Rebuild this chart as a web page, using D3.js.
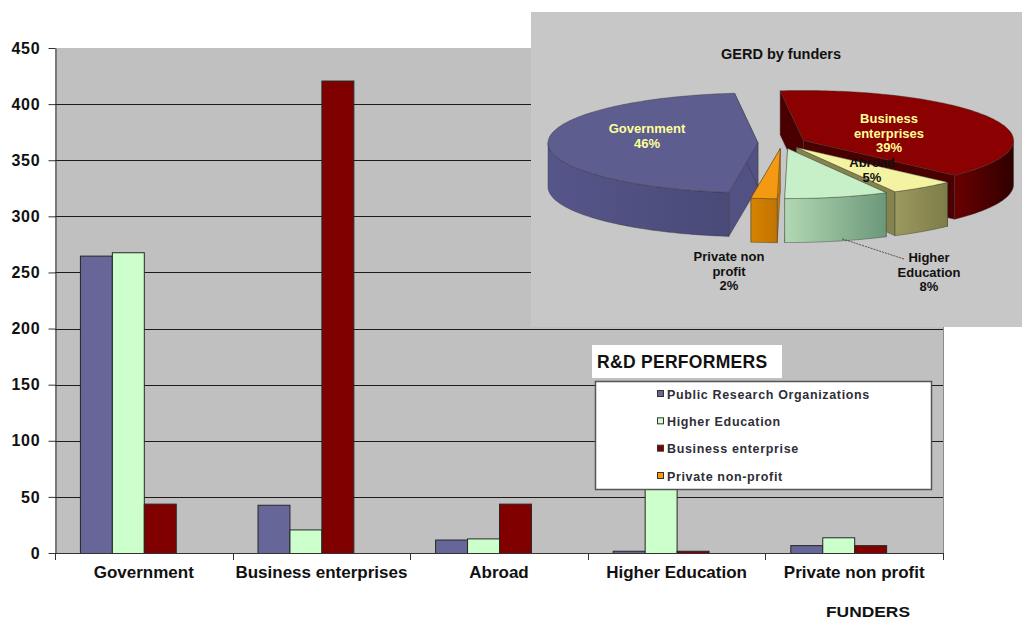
<!DOCTYPE html>
<html>
<head>
<meta charset="utf-8">
<script src="https://cdn.jsdelivr.net/npm/d3@7"></script>
<style>
  body { margin: 0; background: #fff; }
  svg { display: block; font-family: "Liberation Sans", Arial, sans-serif; }
</style>
</head>
<body>
<svg id="chart" width="1022" height="619"></svg>
<script>
// ---- data -------------------------------------------------------------
const funders = ["Government", "Business enterprises", "Abroad", "Higher Education", "Private non profit"];
const performers = ["Public Research Organizations", "Higher Education", "Business enterprise", "Private non-profit"];
const publicResearch     = [265, 43, 12, 2, 7];
const higherEducation    = [268, 21, 13, 98, 14];
const businessEnterprise = [44, 421, 44, 2, 7];
const privateNonProfit   = [0, 0, 0, 0, 0];
const yTicks = [0, 50, 100, 150, 200, 250, 300, 350, 400, 450];

// GERD by funders (percent shares)
const pieFunders = ["Government", "Business enterprises", "Abroad", "Higher Education", "Private non profit"];
const pieShares  = [46, 39, 5, 8, 2];
const pieLabelLines = [["Government"], ["Business", "enterprises"], ["Abroad"], ["Higher", "Education"], ["Private non", "profit"]];

// ---- styling ----------------------------------------------------------
const barColors = ["#666699", "#ccffcc", "#800000", "#ff9900"];
const pieTop  = ["#5d5d90", "#8b0000", "#f3f3a2", "#c8f0c8", "#f39a12"];
const pieWallA = ["#55558a", "#6a0000", "#9c9a5e", "#b2d8b2", "#d58300"];
const pieWallB = ["#4a4a78", "#300000", "#7e7c48", "#6c987a", "#c07400"];
const pieCut  = ["#515183", "#4a0000", "#85834e", "#9cc49c", "#cc7c00"];
const pieLabelColor = ["#ffff99", "#ffff99", "#111", "#111", "#111"];

const svg = d3.select("#chart");
const plot = { left: 55, right: 943, top: 48, bottom: 553 };

const series = [publicResearch, higherEducation, businessEnterprise, privateNonProfit];

// ---- scales -----------------------------------------------------------
const y = d3.scaleLinear().domain([0, 450]).range([plot.bottom, plot.top]);
const x0 = d3.scaleBand().domain(funders).range([plot.left, plot.right]);
const x1 = d3.scaleBand().domain(performers).range([0, x0.bandwidth()])
  .paddingInner(0).paddingOuter(0.78);

// plot background
svg.append("rect")
  .attr("x", plot.left).attr("y", plot.top)
  .attr("width", plot.right - plot.left).attr("height", plot.bottom - plot.top)
  .attr("fill", "#c0c0c0");
svg.append("line")
  .attr("x1", plot.right + 0.5).attr("x2", plot.right + 0.5)
  .attr("y1", plot.top).attr("y2", plot.bottom)
  .attr("stroke", "#8c8c8c");

// gridlines
svg.append("g").selectAll("line")
  .data(yTicks.filter(v => v > 0 && v < 450))
  .join("line")
  .attr("x1", plot.left).attr("x2", plot.right)
  .attr("y1", d => Math.round(y(d)) + 0.5).attr("y2", d => Math.round(y(d)) + 0.5)
  .attr("stroke", "#1c1c1c").attr("stroke-width", 1);

// bars
const groups = svg.append("g").selectAll("g")
  .data(funders)
  .join("g")
  .attr("transform", d => `translate(${x0(d)},0)`);

groups.selectAll("rect")
  .data((d, i) => performers.map((p, s) => ({ p, s, v: series[s][i] })))
  .join("rect")
  .attr("x", d => x1(d.p) + 0.5)
  .attr("y", d => y(d.v) + 0.5)
  .attr("width", x1.bandwidth())
  .attr("height", d => Math.max(0, y(0) - y(d.v)))
  .attr("fill", d => barColors[d.s])
  .attr("stroke", d => d.v > 0 ? "#262626" : "none")
  .attr("stroke-width", 1);

// y axis
const yAxis = svg.append("g")
  .attr("transform", `translate(${plot.left + 0.5},0)`)
  .call(d3.axisLeft(y).tickValues(yTicks).tickSize(7).tickSizeOuter(0).tickPadding(8));
yAxis.select(".domain").attr("stroke", "#333");
yAxis.selectAll(".tick line").attr("stroke", "#333");
yAxis.selectAll("text")
  .attr("font-family", "'Liberation Sans', Arial, sans-serif")
  .attr("font-size", 16).attr("font-weight", "bold").attr("fill", "#111")
  .attr("letter-spacing", 0.8);

// x axis
svg.append("line")
  .attr("x1", plot.left).attr("x2", plot.right)
  .attr("y1", plot.bottom + 0.5).attr("y2", plot.bottom + 0.5)
  .attr("stroke", "#333");
svg.append("g").selectAll("line")
  .data(funders.map(d => x0(d)).concat([plot.right]))
  .join("line")
  .attr("x1", d => Math.round(d) + 0.5).attr("x2", d => Math.round(d) + 0.5)
  .attr("y1", plot.bottom).attr("y2", plot.bottom + 7)
  .attr("stroke", "#333");
svg.append("g").selectAll("text")
  .data(funders)
  .join("text")
  .attr("x", d => x0(d) + x0.bandwidth() / 2)
  .attr("y", 578)
  .attr("text-anchor", "middle")
  .attr("font-size", 17).attr("font-weight", "bold").attr("fill", "#111")
  .text(d => d);

svg.append("text")
  .attr("transform", "translate(868,617) scale(1.2,1)")
  .attr("text-anchor", "middle")
  .attr("font-size", 14.5).attr("font-weight", "bold").attr("fill", "#111")
  .text("FUNDERS");

// ---- inset: GERD by funders (3D exploded pie) ---------------------------
const inset = svg.append("g");
inset.append("rect")
  .attr("x", 531).attr("y", 12).attr("width", 491).attr("height", 315)
  .attr("fill", "#c7c7c7");
inset.append("text")
  .attr("x", 781).attr("y", 59)
  .attr("text-anchor", "middle")
  .attr("font-size", 14.5).attr("font-weight", "bold").attr("fill", "#111")
  .text("GERD by funders");

const P = { cx: 782, cy: 143, rx: 210, ry: 50, depth: 44, explode: 24 };
const firstSliceAngle = -172 * Math.PI / 180;
const pie = d3.pie().sort(null).value(d => d)
  .startAngle(firstSliceAngle).endAngle(firstSliceAngle + 2 * Math.PI);
const slices = pie(pieShares).map((a, i) => {
  const mid = (a.startAngle + a.endAngle) / 2;
  const o = [P.explode * Math.sin(mid), -P.explode * (P.ry / P.rx) * Math.cos(mid)];
  return { ...a, i, mid, o };
});

const pt = (a, o, r = 1, dz = 0) =>
  [P.cx + o[0] + P.rx * r * Math.sin(a), P.cy + o[1] - P.ry * r * Math.cos(a) + dz];
const arcPts = (a0, a1, o, dz = 0) => {
  const n = Math.max(2, Math.ceil(Math.abs(a1 - a0) / 0.02));
  return d3.range(n + 1).map(k => pt(a0 + (a1 - a0) * k / n, o, 1, dz));
};
const poly = pts => "M" + pts.map(p => p[0].toFixed(2) + "," + p[1].toFixed(2)).join("L") + "Z";

const defs = svg.append("defs");
slices.forEach(s => {
  const g = defs.append("linearGradient").attr("id", "wall" + s.i)
    .attr("x1", 0).attr("x2", 1).attr("y1", 0).attr("y2", 0);
  g.append("stop").attr("offset", 0).attr("stop-color", pieWallA[s.i]);
  g.append("stop").attr("offset", 1).attr("stop-color", pieWallB[s.i]);
});

// paint back-to-front
const order = slices.slice().sort((a, b) => Math.cos(b.mid) - Math.cos(a.mid));
const pieG = inset.append("g").attr("stroke-linejoin", "round");
order.forEach(s => {
  const g = pieG.append("g");
  const v = pt(0, s.o, 0), vb = pt(0, s.o, 0, P.depth);
  // radial cut faces
  [s.startAngle, s.endAngle].forEach(a => {
    const e = pt(a, s.o), eb = pt(a, s.o, 1, P.depth);
    g.append("path").attr("d", poly([v, e, eb, vb]))
      .attr("fill", pieCut[s.i]).attr("stroke", "#333").attr("stroke-width", 0.4);
  });
  // front-facing outer wall
  for (let n = -1; n <= 1; n++) {
    const lo = Math.max(s.startAngle, Math.PI / 2 + 2 * Math.PI * n);
    const hi = Math.min(s.endAngle, 3 * Math.PI / 2 + 2 * Math.PI * n);
    if (hi > lo) {
      const top = arcPts(lo, hi, s.o), bot = arcPts(lo, hi, s.o, P.depth).reverse();
      g.append("path").attr("d", poly(top.concat(bot)))
        .attr("fill", `url(#wall${s.i})`).attr("stroke", "#333").attr("stroke-width", 0.4);
    }
  }
  // top surface
  g.append("path").attr("d", poly([v].concat(arcPts(s.startAngle, s.endAngle, s.o))))
    .attr("fill", pieTop[s.i]).attr("stroke", "#333").attr("stroke-width", 0.4);
});

// slice labels (offsets from the pie centre)
const pieLabelOffset = [[-135, -7], [107, -10], [90, 27], [147, 129], [-53, 128]];
const he = slices[3];
const leadFrom = pt(he.startAngle + 0.45 * (he.endAngle - he.startAngle), he.o, 1, P.depth);
inset.append("line")
  .attr("x1", leadFrom[0]).attr("y1", leadFrom[1] - 2)
  .attr("x2", P.cx + pieLabelOffset[3][0] - 25).attr("y2", P.cy + pieLabelOffset[3][1] - 13)
  .attr("stroke", "#333").attr("stroke-width", 0.8).attr("stroke-dasharray", "2,1");

slices.forEach(s => {
  const lines = pieLabelLines[s.i].concat([pieShares[s.i] + "%"]);
  const cxL = P.cx + pieLabelOffset[s.i][0];
  const cyL = P.cy + pieLabelOffset[s.i][1];
  const lh = 14.5;
  const t = inset.append("text")
    .attr("text-anchor", "middle")
    .attr("font-size", 13).attr("font-weight", "bold")
    .attr("fill", pieLabelColor[s.i]);
  lines.forEach((ln, k) => {
    t.append("tspan")
      .attr("x", cxL)
      .attr("y", cyL + (k - (lines.length - 1) / 2) * lh + 4.5)
      .text(ln);
  });
});

// ---- legend -------------------------------------------------------------
svg.append("rect")
  .attr("x", 592).attr("y", 345).attr("width", 190).attr("height", 33)
  .attr("fill", "#fff");
svg.append("text")
  .attr("x", 597).attr("y", 368)
  .attr("font-size", 17.5).attr("font-weight", "bold").attr("fill", "#111")
  .attr("letter-spacing", 0.3)
  .text("R&D PERFORMERS");

svg.append("rect")
  .attr("x", 595.5).attr("y", 381.5).attr("width", 336).attr("height", 108)
  .attr("fill", "#fff").attr("stroke", "#555").attr("stroke-width", 1.5);

const legendRowY = d3.scalePoint().domain(performers).range([394, 476]);
const legendItems = svg.append("g").selectAll("g")
  .data(performers)
  .join("g")
  .attr("transform", d => `translate(0,${legendRowY(d)})`);
legendItems.append("rect")
  .attr("x", 657.5).attr("y", -3.5).attr("width", 6).attr("height", 6)
  .attr("fill", (d, i) => barColors[i]).attr("stroke", "#333").attr("stroke-width", 1);
legendItems.append("text")
  .attr("x", 667).attr("y", 4.5)
  .attr("font-size", 12.5).attr("font-weight", "bold").attr("fill", "#2e2e38")
  .attr("letter-spacing", 0.65)
  .text(d => d);
</script>
</body>
</html>
